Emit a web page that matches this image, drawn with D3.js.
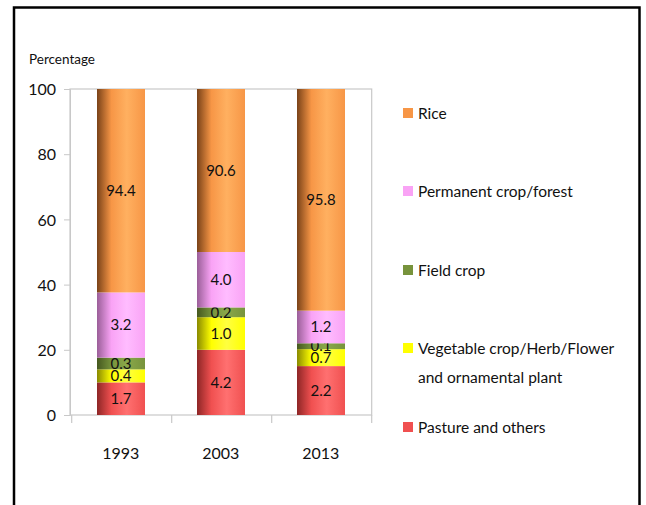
<!DOCTYPE html>
<html><head><meta charset="utf-8">
<script src="https://cdn.jsdelivr.net/npm/d3@7"></script>
<style>body{margin:0;background:#fff;} text{font-family:Lato,"Open Sans",sans-serif;}</style>
</head><body>
<svg id="c" width="646" height="505"></svg>
<script>
// Data
const years = ["1993", "2003", "2013"];
const series = ["Pasture and others", "Vegetable crop/Herb/Flower and ornamental plant", "Field crop", "Permanent crop/forest", "Rice"];
// labelled values shown on the bars
const pastureVals = [1.7, 4.2, 2.2];
const vegVals = [0.4, 1.0, 0.7];
const fieldVals = [0.3, 0.2, 0.1];
const permVals = [3.2, 4.0, 1.2];
const riceVals = [94.4, 90.6, 95.8];
// drawn segment heights (percent axis) as they appear in the picture
const pastureH = [10, 20, 15];
const vegH = [4, 10, 5.2];
const fieldH = [3.6, 3, 1.8];
const permH = [20, 17, 10];
const riceH = [62.4, 50, 68];
const yTicks = [0, 20, 40, 60, 80, 100];

const colors = ["#f05050", "#ffff00", "#77933c", "#f9a3f5", "#f79646"];
const darks  = ["#8e2626", "#8a8a00", "#45581f", "#9a5e98", "#7a4218"];
const lights = ["#ff7070", "#ffff40", "#8aa84a", "#ffbcff", "#ffb060"];

const labelsArr = [pastureVals, vegVals, fieldVals, permVals, riceVals];
const heightsArr = [pastureH, vegH, fieldH, permH, riceH];

const svg = d3.select("#c");
const defs = svg.append("defs");
colors.forEach((c, i) => {
  const g = defs.append("linearGradient").attr("id", "g" + i).attr("x1", "0").attr("x2", "1").attr("y1", "0").attr("y2", "0");
  g.append("stop").attr("offset", "0%").attr("stop-color", darks[i]);
  g.append("stop").attr("offset", "30%").attr("stop-color", c);
  g.append("stop").attr("offset", "62%").attr("stop-color", lights[i]);
  g.append("stop").attr("offset", "100%").attr("stop-color", c);
});

// outer frame
svg.append("rect").attr("x", 14).attr("y", 7.5).attr("width", 625.5).attr("height", 510)
  .attr("fill", "none").attr("stroke", "#000").attr("stroke-width", 2.5);

const x0 = 71.7, x1 = 371.7, yTop = 89, yBot = 415;
const x = d3.scaleBand().domain(years).range([x0, x1]).paddingInner(0).paddingOuter(0);
const y = d3.scaleLinear().domain([0, 100]).range([yBot, yTop]);

// plot border
svg.append("rect").attr("x", 70).attr("y", yTop).attr("width", x1 - 70).attr("height", yBot - yTop)
  .attr("fill", "none").attr("stroke", "#c8c8c8").attr("stroke-width", 1.2);

// y axis
const ya = svg.append("g").attr("transform", "translate(70,0)")
  .call(d3.axisLeft(y).tickValues(yTicks).tickSize(6).tickPadding(8));
ya.select(".domain").attr("stroke", "#c8c8c8");
ya.selectAll(".tick line").attr("stroke", "#c8c8c8");
ya.selectAll(".tick text").attr("font-size", 16).attr("fill", "#111").attr("dy", "0.35em");

// x axis ticks
const xt = [x0, x0 + 100, x0 + 200, x1];
svg.selectAll(".xt").data(xt).enter().append("line")
  .attr("x1", d => d).attr("x2", d => d).attr("y1", yBot).attr("y2", yBot + 8)
  .attr("stroke", "#c8c8c8").attr("stroke-width", 1.2);
svg.selectAll(".xl").data(years).enter().append("text")
  .attr("x", d => x(d) + x.bandwidth() / 2 - 1).attr("y", 459)
  .attr("text-anchor", "middle").attr("font-size", 16).attr("fill", "#111").text(d => d);

svg.append("text").attr("x", 29).attr("y", 64).attr("font-size", 13.5).attr("fill", "#111").text("Percentage");

// stacked bars
const barW = 48;
years.forEach((yr, j) => {
  let base = 0;
  const cx = x(yr) + x.bandwidth() / 2 - 0.7;
  series.forEach((s, i) => {
    const h = heightsArr[i][j];
    svg.append("rect").attr("x", cx - barW / 2).attr("width", barW)
      .attr("y", y(base + h)).attr("height", y(base) - y(base + h))
      .attr("fill", "url(#g" + i + ")");
    svg.append("text").attr("x", cx).attr("y", y(base + h / 2)).attr("dy", "0.35em")
      .attr("text-anchor", "middle").attr("font-size", 15).attr("fill", "#111")
      .text(d3.format(".1f")(labelsArr[i][j]));
    base += h;
  });
});

// legend
const legendItems = [
  {i: 4, lines: ["Rice"], y: 114},
  {i: 3, lines: ["Permanent crop/forest"], y: 192},
  {i: 2, lines: ["Field crop"], y: 271},
  {i: 1, lines: ["Vegetable crop/Herb/Flower", "and ornamental plant"], y: 349},
  {i: 0, lines: ["Pasture and others"], y: 428}
];
legendItems.forEach(d => {
  svg.append("rect").attr("x", 403).attr("y", d.y - 6).attr("width", 10).attr("height", 10).attr("fill", colors[d.i]);
  d.lines.forEach((t, k) => {
    svg.append("text").attr("x", 418).attr("y", d.y + k * 29).attr("dy", "0.35em")
      .attr("font-size", 15.5).attr("fill", "#111").text(t);
  });
});
</script>
</body></html>
